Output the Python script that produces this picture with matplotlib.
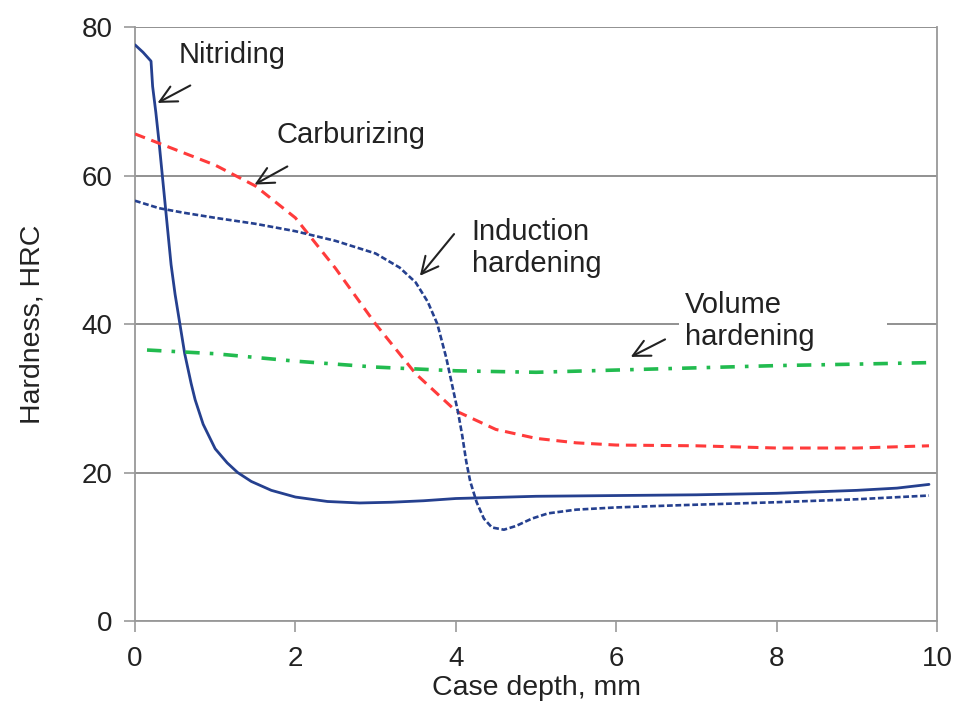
import numpy as np
import matplotlib
matplotlib.use("Agg")
import matplotlib.pyplot as plt
from matplotlib.patches import Rectangle

plt.rcParams['font.family'] = ['Liberation Sans', 'DejaVu Sans']

# nitriding (solid)
nit_x = [0.0, 0.1, 0.2, 0.22, 0.26, 0.3, 0.35, 0.4, 0.45, 0.5, 0.56, 0.62, 0.7, 0.75, 0.85,
         1.0, 1.15, 1.28, 1.45, 1.7, 2.0, 2.4, 2.8, 3.2, 3.6, 4.0, 5.0, 6.0, 7.0, 8.0, 9.0, 9.5, 9.9]
nit_y = [77.6, 76.6, 75.4, 72.0, 68.5, 64.5, 59.0, 53.5, 48.0, 44.0, 40.0, 36.0, 32.0, 29.8, 26.5,
         23.2, 21.3, 20.0, 18.8, 17.6, 16.7, 16.1, 15.9, 16.0, 16.2, 16.5, 16.8, 16.9, 17.0, 17.2, 17.6, 17.9, 18.4]

# carburizing (dashed)
car_x = [0.0, 0.5, 1.0, 1.5, 2.0, 2.5, 3.0, 3.5, 4.0, 4.5, 5.0, 5.5, 6.0, 7.0, 8.0, 9.0, 9.9]
car_y = [65.6, 63.5, 61.4, 58.6, 54.3, 47.5, 40.0, 33.3, 28.3, 25.8, 24.6, 24.0, 23.7, 23.6, 23.3, 23.3, 23.6]

# induction hardening (fine dashes)
ind_x = [0.0, 0.3, 0.6, 1.0, 1.5, 2.0, 2.5, 3.0, 3.3, 3.5, 3.65, 3.77, 3.88, 3.97, 4.03, 4.08,
         4.13, 4.18, 4.26, 4.35, 4.45, 4.6, 4.75, 4.95, 5.15, 5.5, 6.0, 6.8, 8.0, 9.0, 9.9]
ind_y = [56.6, 55.6, 55.0, 54.3, 53.5, 52.5, 51.2, 49.5, 47.6, 45.6, 43.0, 40.0, 35.5, 31.0, 28.0, 25.0,
         21.5, 18.8, 16.0, 13.8, 12.6, 12.3, 12.8, 13.8, 14.5, 15.0, 15.3, 15.6, 16.0, 16.4, 16.9]

# volume hardening (dash-dot)
vol_x = [0.15, 1.0, 2.0, 3.0, 4.0, 5.0, 6.0, 7.0, 8.0, 9.0, 9.9]
vol_y = [36.5, 36.0, 35.0, 34.2, 33.7, 33.5, 33.8, 34.1, 34.4, 34.6, 34.8]

fig = plt.figure(figsize=(9.58, 7.05), dpi=100)
ax = fig.add_axes([0.1409, 0.1191, 0.8372, 0.8426])

blue = '#25408F'
ax.plot(nit_x, nit_y, color=blue, lw=2.0, solid_capstyle='round', zorder=3)
ax.plot(car_x, car_y, color='#FF3B3B', lw=2.2, dashes=(3.5, 2.2), zorder=3)
ax.plot(ind_x, ind_y, color=blue, lw=1.9, dashes=(2.2, 1.0), zorder=3)
ax.plot(vol_x, vol_y, color='#22BB4F', lw=2.6, dashes=(4, 2.8, 1, 2.8), zorder=3)

ax.set_xlim(0, 10)
ax.set_ylim(0, 80)
ax.set_xticks([0, 2, 4, 6, 8, 10])
ax.set_yticks([0, 20, 40, 60, 80])
ax.yaxis.grid(True, color='#888888', lw=1.3, zorder=0)
ax.set_axisbelow(True)
for s in ax.spines.values():
    s.set_color('#999999')
    s.set_linewidth(1.3)
ax.spines['top'].set_visible(False)
ax.tick_params(axis='both', colors='#999999', labelcolor='#222222', labelsize=20,
               direction='out', length=8, width=1.2)
ax.tick_params(axis='x', pad=10)
ax.tick_params(axis='y', pad=8)
ax.set_xlabel('Case depth, mm', fontsize=20.5, color='#222222', labelpad=2)
ax.set_ylabel('Hardness, HRC', fontsize=20.5, color='#222222', labelpad=26)

arr = dict(arrowstyle='->', color='#222222', lw=1.5, mutation_scale=30)
fs = 21
tc = '#222222'
ax.annotate('', xy=(0.25, 69.6), xytext=(0.72, 72.3), arrowprops=arr)
ax.text(0.54, 76.2, 'Nitriding', fontsize=fs, color=tc, ha='left', va='center')
ax.annotate('', xy=(1.46, 58.6), xytext=(1.93, 61.4), arrowprops=arr)
ax.text(1.77, 65.5, 'Carburizing', fontsize=fs, color=tc, ha='left', va='center')
ax.annotate('', xy=(3.53, 46.2), xytext=(4.0, 52.4), arrowprops=arr)
ax.text(4.2, 50.2, 'Induction\nhardening', fontsize=fs, color=tc, ha='left', va='center',
        linespacing=1.2)
ax.add_patch(Rectangle((6.78, 38.0), 2.6, 5.0, facecolor='white', edgecolor='none', zorder=1))
ax.annotate('', xy=(6.15, 35.4), xytext=(6.64, 38.1), arrowprops=arr)
ax.text(6.86, 40.4, 'Volume\nhardening', fontsize=fs, color=tc, ha='left', va='center',
        linespacing=1.15, zorder=4)

fig.savefig('out.png', dpi=100)
